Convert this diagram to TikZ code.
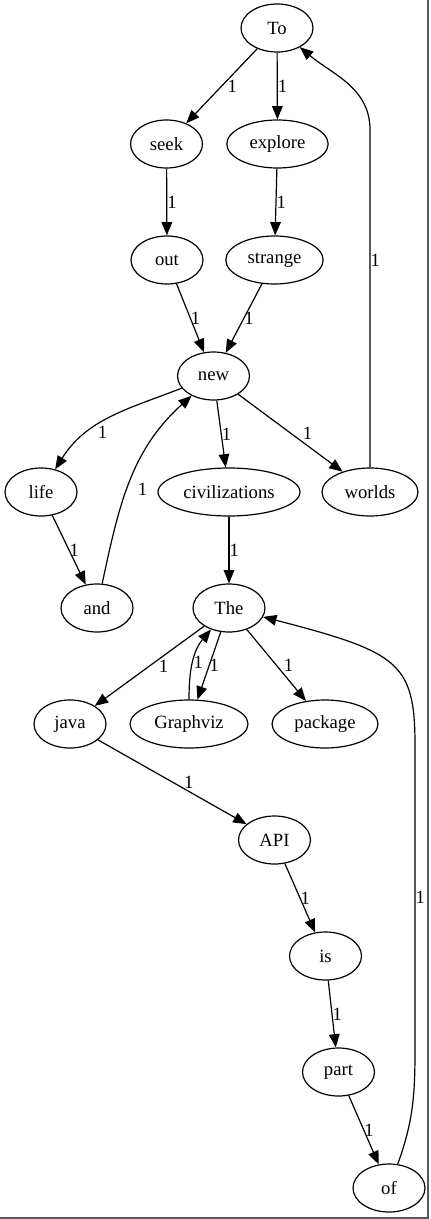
\documentclass[tikz,border=0pt]{standalone}
\usepackage{fontspec}
\setmainfont{Liberation Serif}
\usetikzlibrary{arrows.meta, positioning, shapes.geometric}

\tikzset{
	word/.style={draw, ellipse, line width=0.9pt, inner sep=0pt, minimum width=54pt, minimum height=36pt, font=\fontsize{14}{16}\selectfont},
	link/.style={line width=0.9pt, -{Triangle[length=10pt, width=8pt]}},
	weight/.style={inner sep=0pt, font=\fontsize{14}{16}\selectfont},
}

\begin{document}
\begin{tikzpicture}[x=0.75pt, y=0.75pt]
	\useasboundingbox (0,0) rectangle (431,-1219);

	% frame on the right and at the bottom
	\draw [line width=1.5pt, gray!70!black] (428.3,0) -- (428.3,-1217.8) -- (0,-1217.8);

	\node [word] (To) at (277,-28) {To};
	\node [word] (seek) at (166.5,-144) {seek};
	\node [word, minimum width=76pt] (explore) at (277.5,-144) {explore};
	\node [word] (out) at (167,-260) {out};
	\node [word, minimum width=73pt] (strange) at (274.5,-260) {strange};
	\node [word] (new) at (213.5,-376) {new};
	\node [word] (life) at (41,-492) {life};
	\node [word, minimum width=106.5pt] (civilizations) at (229,-492) {civilizations};
	\node [word, minimum width=72pt] (worlds) at (370,-492) {worlds};
	\node [word] (and) at (97,-608) {and};
	\node [word] (The) at (229,-608) {The};
	\node [word] (java) at (70,-724) {java};
	\node [word, minimum width=88.5pt] (Graphviz) at (189,-724) {Graphviz};
	\node [word, minimum width=79.5pt] (package) at (325,-724) {package};
	\node [word] (API) at (274.5,-840) {API};
	\node [word] (is) at (325.5,-956) {is};
	\node [word] (part) at (338.5,-1072) {part};
	\node [word] (of) at (389,-1188) {of};

	\coordinate (worlds bend) at (370,-130);
	\coordinate (of bend low) at (415,-1050);
	\coordinate (of bend high) at (415,-745);

	\draw [link] (To) -- node [weight, right=4pt] {1} (seek);
	\draw [link] (To) -- node [weight, right] {1} (explore);
	\draw [link] (seek) -- node [weight, right] {1} (out);
	\draw [link] (explore) -- node [weight, right] {1} (strange);
	\draw [link] (out) -- node [weight, right] {1} (new);
	\draw [link] (strange) -- node [weight, right] {1} (new);

	\draw [link] (new) to [out=-159, in=58] node [weight, pos=0.6, below right] {1} (life);
	\draw [link] (new) -- node [weight, right] {1} (civilizations);
	\draw [link] (new) -- node [weight, right=8.9pt] {1} (worlds);
	\draw [link] (worlds) -- node [weight, pos=0.615, right] {1} (worlds bend) to [out=90, in=-40] (To);
	\draw [link] (life) -- node [weight, right] {1} (and);
	\draw [link] (and) to [out=78, in=-138] node [weight, pos=0.45, right=7.7pt] {1} (new);
	\draw [link] (civilizations) -- node [weight, right] {1} (The);

	\draw [link] (The) -- node [weight, right=6.6pt] {1} (java);
	\draw [link] (Graphviz) to [out=90, in=-130] node [weight, right] {1} (The);
	\draw [link] (The) -- node [weight, right] {1} (Graphviz);
	\draw [link] (The) -- node [weight, right=5.2pt] {1} (package);
	\draw [link] (java) -- node [weight, right=8.5pt] {1} (API);
	\draw [link] (API) -- node [weight, right] {1} (is);
	\draw [link] (is) -- node [weight, right] {1} (part);
	\draw [link] (part) -- node [weight, right] {1} (of);
	\draw [link] (of) to [out=70, in=-90] (of bend low) -- node [weight, right] {1} (of bend high) .. controls (415,-662) and (398,-652) .. (The);
\end{tikzpicture}
\end{document}
